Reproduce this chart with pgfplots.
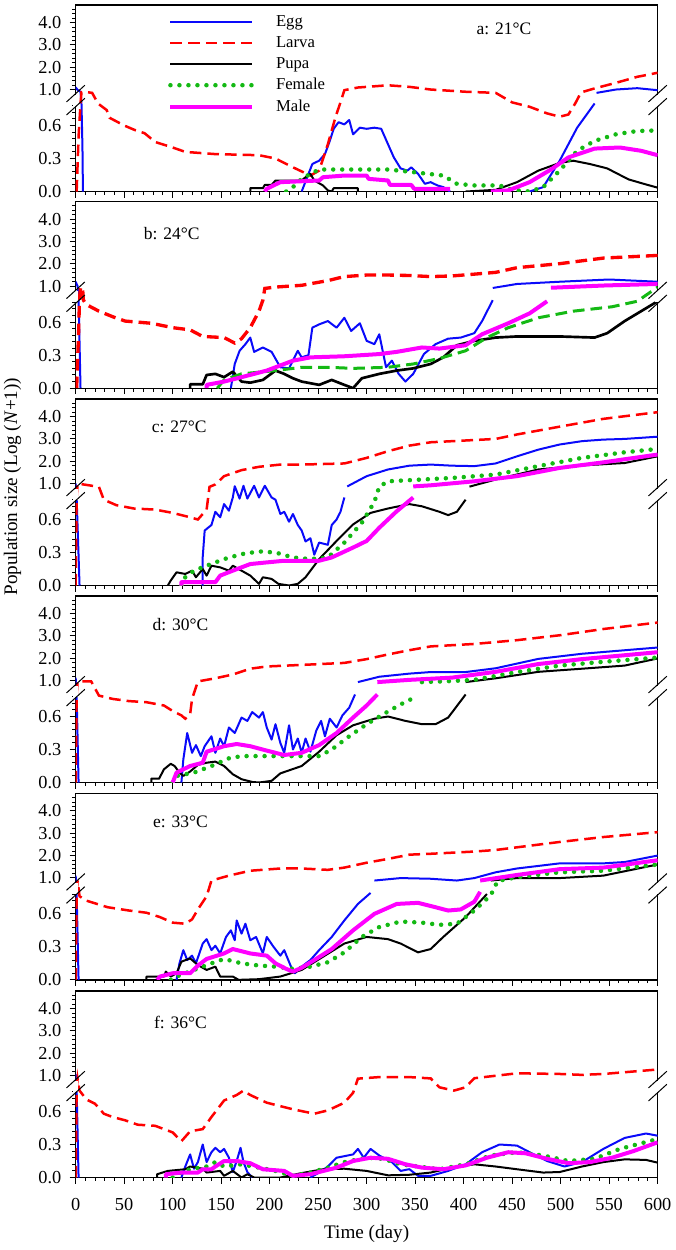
\documentclass[border=0pt]{standalone}
\usepackage{fontspec}
\setmainfont{Liberation Serif}
\usepackage{pgfplots}
\pgfplotsset{compat=1.18}

\definecolor{cEgg}{RGB}{10,10,250}
\definecolor{cLarva}{RGB}{255,0,0}
\definecolor{cFem}{RGB}{20,185,20}
\definecolor{cMale}{RGB}{255,0,255}

\tikzset{
  egg/.style={color=cEgg, line width=1.2pt, line join=round},
  larva/.style={color=cLarva, line width=1.5pt, dash pattern=on 7pt off 3.6pt},
  larvab/.style={color=cLarva, line width=2pt, dash pattern=on 7pt off 3.6pt},
  pupa/.style={color=black, line width=1.2pt, line join=round},
  fem/.style={color=cFem, line width=2.7pt, line cap=round, dash pattern=on 0pt off 5.4pt},
  femb/.style={color=cFem, line width=1.8pt, dash pattern=on 7pt off 3.6pt},
  male/.style={color=cMale, line width=2.4pt, line join=round},
}

\pgfplotsset{
  panel/.style={
    scale only axis, width=349.2pt, height=111.9pt,
    xmin=0, xmax=600, ymin=0, ymax=4.79,
    y coord trafo/.code={\pgfmathparse{(##1<=0.83)?(##1):(0.7243+0.2027*(##1))}},
    ytick={0,0.3,0.6,1,2,3,4},
    yticklabels={0.0,0.3,0.6,1.0,2.0,3.0,4.0},
    minor ytick={0.06,0.12,0.18,0.24,0.36,0.42,0.48,0.54,0.66,0.72,0.78,1.2,1.4,1.6,1.8,2.2,2.4,2.6,2.8,3.2,3.4,3.6,3.8,4.2,4.4,4.6},
    xtick={0,50,...,600},
    minor x tick num=4,
    tick align=outside, tick pos=left,
    major tick length=3.6pt, minor tick length=2pt,
    every tick/.style={black, line width=0.6pt},
    axis line style={line width=0.8pt},
    clip mode=individual,
    tick label style={font=\fontsize{11}{13}\selectfont},
    yticklabel style={xshift=-1.5pt},
    /pgf/number format/assume math mode=true,
    xticklabels={},
  },
}

\newcommand{\brk}{%
  \draw[white, line width=3pt] (rel axis cs:0,0.46) -- (rel axis cs:0,0.52);
  \draw[white, line width=3pt] (rel axis cs:1,0.46) -- (rel axis cs:1,0.52);
  \draw[black, line width=0.6pt] ([xshift=-5.5pt,yshift=-5pt]rel axis cs:0,0.455) -- ([xshift=5.5pt,yshift=5pt]rel axis cs:0,0.455);
  \draw[black, line width=0.6pt] ([xshift=-5.5pt,yshift=-5pt]rel axis cs:0,0.525) -- ([xshift=5.5pt,yshift=5pt]rel axis cs:0,0.525);
  \draw[black, line width=0.6pt] ([xshift=-5.5pt,yshift=-5pt]rel axis cs:1,0.455) -- ([xshift=5.5pt,yshift=5pt]rel axis cs:1,0.455);
  \draw[black, line width=0.6pt] ([xshift=-5.5pt,yshift=-5pt]rel axis cs:1,0.525) -- ([xshift=5.5pt,yshift=5pt]rel axis cs:1,0.525);
}

\begin{document}
\begin{tikzpicture}
\path[use as bounding box] (0pt,0pt) rectangle (405pt,-750pt);

% ---------------- panel a ----------------
\begin{axis}[panel, at={(45.4pt,-3pt)}, anchor=north west,
  legend style={at={(rel axis cs:0.159,0.962)}, anchor=north west, draw=none, fill=none,
    inner sep=0pt, outer sep=0pt, row sep=0.5pt, font=\fontsize{10}{12}\selectfont,
    /tikz/every odd column/.append style={column sep=11pt}},
  legend cell align=left,
  legend image code/.code={\draw[#1] (0pt,0pt) -- (49pt,0pt);},
  legend entries={Egg,Larva,Pupa,Female,Male}]
\addlegendimage{egg}
\addlegendimage{larva}
\addlegendimage{pupa}
\addlegendimage{fem}
\addlegendimage{male}
\addplot[egg, forget plot] coordinates {(0,1.1) (2,0.98) (5,0.9) (6,0.8) (7,0.4) (7.5,0)};
\addplot[egg, forget plot] coordinates {(233,0) (240,0.16) (244,0.25) (251,0.28) (257,0.34) (262,0.46) (266,0.57) (271,0.63) (277,0.61) (282,0.65) (286,0.52) (293,0.58) (300,0.57) (308,0.58) (315,0.57) (322,0.43) (328,0.31) (335,0.21) (342,0.19) (346,0.22) (353,0.16) (360,0.07) (366,0.085) (373,0.055) (379,0.04) (386,0)};
\addplot[egg, forget plot] coordinates {(468,0) (482,0.04) (499,0.28) (517,0.58) (535,0.8)};
\addplot[egg, forget plot] coordinates {(537,0.85) (557,1.0) (579,1.06) (600,0.97)};
\addplot[larva, forget plot] coordinates {(1,0) (3,0.5) (5,0.8) (6,0.88) (12,0.88) (17,0.85) (23,0.8) (32,0.74) (35,0.67) (50,0.6) (62,0.555) (71,0.53) (82,0.45) (100,0.40) (113,0.36) (144,0.34) (189,0.33) (206,0.30) (224,0.22) (242,0.145) (251,0.19) (260,0.43) (268,0.68) (273,0.81) (277,0.97) (291,1.09) (322,1.19) (344,1.12) (366,1.0) (402,0.9) (433,0.85) (450,0.81) (468,0.77) (486,0.71) (499,0.68) (508,0.7) (515,0.8) (521,0.87) (535,1.05) (557,1.3) (579,1.57) (600,1.75)};
\addplot[pupa, forget plot] coordinates {(180,0) (180,0.03) (193,0.03) (195,0.06) (202,0.06) (206,0.1) (233,0.1) (237,0.13) (242,0.16) (246,0.1) (255,0.055) (260,0.01) (264,0) (266,0.03) (291,0.03) (291,0)};
\addplot[pupa, forget plot] coordinates {(402,0) (433,0.015) (455,0.085) (477,0.19) (499,0.26) (513,0.28) (530,0.25) (548,0.21) (570,0.11) (588,0.064) (600,0.035)};
\addplot[fem, forget plot] coordinates {(217,0) (224,0.04) (233,0.115) (242,0.16) (251,0.2) (322,0.2) (344,0.18) (379,0.145) (393,0.07) (411,0.055) (437,0.055) (450,0.015) (468,0) (482,0.04) (499,0.19) (517,0.37) (535,0.46) (557,0.52) (579,0.55) (600,0.555)};
\addplot[male, forget plot] coordinates {(195,0) (197,0.025) (211,0.085) (251,0.1) (255,0.13) (277,0.145) (300,0.145) (302,0.115) (322,0.1) (324,0.06) (346,0.06) (349,0.025) (386,0.025)};
\addplot[male, forget plot] coordinates {(428,0) (446,0.01) (468,0.085) (490,0.2) (508,0.31) (535,0.39) (561,0.4) (583,0.37) (600,0.33)};
\brk
\node[font=\fontsize{10.5}{12}\selectfont] at (rel axis cs:0.736,0.87) {a: 21°C};
\end{axis}

% ---------------- panel b ----------------
\begin{axis}[panel, at={(45.4pt,-121pt)}, anchor=north west]
\addplot[egg] coordinates {(0,1.2) (2,1.0) (3,0.82) (5,0)};
\addplot[egg] coordinates {(160,0) (164,0.22) (169,0.34) (175,0.4) (180,0.46) (184,0.33) (193,0.37) (202,0.33) (211,0.19) (220,0.18) (229,0.34) (233,0.28) (240,0.3) (244,0.55) (251,0.58) (260,0.61) (269,0.55) (277,0.64) (284,0.52) (293,0.59) (300,0.43) (308,0.40) (313,0.49) (320,0.19) (326,0.25) (333,0.13) (340,0.06) (348,0.13) (359,0.31) (371,0.40) (384,0.45) (397,0.46) (411,0.50) (419,0.61) (430,0.80)};
\addplot[egg] coordinates {(430,0.92) (455,1.1) (499,1.2) (550,1.3) (600,1.2)};
\addplot[larvab] coordinates {(1,0) (3,0.5) (4,0.82) (5,0.93) (7,0.96) (8,0.8) (11,0.76) (24,0.70) (38,0.65) (51,0.61) (78,0.59) (100,0.55) (118,0.53) (131,0.47) (153,0.46) (164,0.41) (171,0.45) (180,0.55) (189,0.70) (193,0.8) (195,0.9) (206,0.96) (233,1.04) (260,1.25) (277,1.43) (300,1.5) (322,1.5) (344,1.48) (366,1.43) (388,1.46) (411,1.54) (433,1.62) (455,1.83) (499,2.01) (544,2.26) (600,2.38)};
\addplot[pupa, line width=1.6pt] coordinates {(118,0) (118,0.035) (131,0.035) (135,0.12) (144,0.13) (153,0.1) (162,0.15) (171,0.06) (180,0.05) (193,0.075) (206,0.16) (215,0.13) (224,0.09) (233,0.06) (251,0.03) (264,0.075) (277,0.03) (286,0) (295,0.09) (313,0.13) (331,0.16) (348,0.18) (366,0.22) (379,0.28) (393,0.39) (411,0.43) (433,0.46) (455,0.47) (477,0.47) (499,0.47) (535,0.46) (548,0.5) (566,0.61) (600,0.79)};
\addplot[femb] coordinates {(146,0) (153,0.075) (171,0.13) (206,0.16) (233,0.19) (260,0.19) (286,0.18) (322,0.19) (348,0.22) (375,0.27) (402,0.34) (424,0.46) (446,0.55) (477,0.64) (513,0.70) (553,0.74) (579,0.79) (600,0.96)};
\addplot[male] coordinates {(135,0) (135,0.03) (153,0.06) (171,0.1) (197,0.16) (224,0.25) (242,0.28) (277,0.29) (313,0.31) (331,0.33) (357,0.37) (375,0.36) (402,0.39) (419,0.49) (446,0.59) (468,0.68) (486,0.79)};
\addplot[male] coordinates {(490,0.93) (544,1.03) (600,1.1)};
\brk
\node[font=\fontsize{10.5}{12}\selectfont] at (rel axis cs:0.165,0.83) {b: 24°C};
\end{axis}

% ---------------- panel c ----------------
\begin{axis}[panel, at={(45.4pt,-239.4pt)}, anchor=north west]
\addplot[egg] coordinates {(0,1.0) (1,0.8) (4,0)};
\addplot[egg] coordinates {(131,0) (131,0.26) (133,0.5) (140,0.55) (144,0.67) (149,0.62) (153,0.74) (158,0.68) (162,0.8) (164,0.88) (169,0.79) (173,0.9) (177,0.79) (184,0.9) (189,0.8) (195,0.9) (202,0.8) (206,0.78) (211,0.65) (215,0.67) (220,0.58) (224,0.65) (229,0.55) (233,0.5) (237,0.4) (242,0.43) (246,0.28) (251,0.39) (260,0.37) (264,0.55) (269,0.6) (273,0.67) (277,0.8)};
\addplot[egg] coordinates {(280,0.87) (300,1.33) (322,1.63) (344,1.8) (366,1.85) (388,1.8) (411,1.78) (433,1.9) (455,2.22) (477,2.52) (499,2.75) (522,2.9) (544,2.97) (566,3.0) (600,3.1)};
\addplot[larva] coordinates {(0,0) (1,0.8) (2,1.0) (24,0.85) (29,0.78) (42,0.73) (60,0.70) (82,0.69) (100,0.66) (118,0.62) (126,0.6) (135,0.69) (138,0.85) (144,0.96) (153,1.33) (171,1.6) (189,1.75) (211,1.85) (233,1.85) (277,1.9) (300,2.15) (322,2.45) (344,2.7) (366,2.85) (411,2.95) (433,3.0) (455,3.2) (499,3.55) (544,3.9) (600,4.2)};
\addplot[pupa] coordinates {(95,0) (98,0.045) (104,0.12) (113,0.105) (120,0.135) (124,0.075) (131,0.15) (135,0.09) (140,0.18) (149,0.165) (158,0.135) (162,0.18) (171,0.135) (180,0.09) (189,0.015) (193,0.075) (202,0.06) (209,0.015) (220,0) (229,0.015) (237,0.075) (251,0.24) (269,0.405) (286,0.555) (304,0.66) (322,0.70) (344,0.74) (357,0.72) (375,0.67) (384,0.64) (393,0.67) (402,0.78)};
\addplot[pupa] coordinates {(406,0.86) (433,1.18) (477,1.63) (522,1.81) (566,1.92) (600,2.22)};
\addplot[fem] coordinates {(109,0) (113,0.075) (122,0.135) (135,0.18) (153,0.24) (171,0.285) (189,0.31) (206,0.3) (224,0.255) (242,0.24) (260,0.255) (277,0.39) (295,0.57) (308,0.76) (313,0.86) (322,1.1) (344,1.15) (388,1.25) (433,1.4) (477,1.78) (522,2.15) (566,2.4) (600,2.55)};
\addplot[male] coordinates {(109,0) (109,0.03) (144,0.03) (149,0.09) (162,0.135) (180,0.195) (197,0.21) (215,0.225) (251,0.225) (264,0.255) (286,0.345) (300,0.405) (313,0.525) (331,0.675) (348,0.8)};
\addplot[male] coordinates {(348,0.87) (366,0.92) (411,1.1) (455,1.33) (499,1.7) (544,1.95) (600,2.3)};
\brk
\node[font=\fontsize{10.5}{12}\selectfont] at (rel axis cs:0.178,0.85) {c: 27°C};
\end{axis}

% ---------------- panel d ----------------
\begin{axis}[panel, at={(45.4pt,-357.6pt)}, anchor=north west]
\addplot[egg] coordinates {(0,1.13) (1,0.79) (3,0)};
\addplot[egg] coordinates {(109,0) (111,0.21) (115,0.45) (120,0.27) (124,0.34) (129,0.24) (133,0.33) (140,0.42) (144,0.27) (149,0.40) (153,0.33) (158,0.50) (164,0.45) (171,0.59) (177,0.56) (182,0.64) (189,0.59) (193,0.64) (197,0.50) (202,0.39) (206,0.53) (211,0.36) (215,0.27) (220,0.52) (224,0.30) (229,0.40) (233,0.27) (237,0.40) (242,0.28) (248,0.47) (253,0.56) (257,0.42) (262,0.58) (269,0.50) (275,0.61) (282,0.68) (288,0.80)};
\addplot[egg] coordinates {(291,0.93) (313,1.17) (344,1.31) (366,1.38) (402,1.38) (433,1.55) (477,1.97) (522,2.2) (600,2.48)};
\addplot[larva] coordinates {(0,0) (1,0.79) (2,0.96) (16,0.96) (24,0.79) (38,0.76) (55,0.74) (73,0.73) (91,0.70) (100,0.65) (109,0.61) (113,0.58) (118,0.62) (120,0.76) (126,0.96) (144,1.1) (162,1.27) (180,1.53) (197,1.63) (233,1.7) (277,1.79) (300,1.96) (322,2.17) (344,2.36) (366,2.53) (411,2.64) (455,2.81) (499,3.03) (544,3.31) (600,3.6)};
\addplot[pupa] coordinates {(78,0) (78,0.035) (86,0.035) (91,0.12) (98,0.17) (102,0.15) (107,0.09) (111,0.06) (118,0.1) (126,0.16) (135,0.18) (144,0.19) (153,0.15) (162,0.075) (171,0.03) (182,0.005) (189,0) (202,0.015) (211,0.083) (233,0.15) (251,0.28) (269,0.43) (286,0.52) (308,0.58) (322,0.60) (340,0.56) (357,0.53) (371,0.53) (384,0.59) (402,0.80)};
\addplot[pupa] coordinates {(402,0.93) (433,1.1) (477,1.39) (522,1.53) (566,1.67) (600,1.99)};
\addplot[fem] coordinates {(100,0) (104,0.06) (122,0.09) (140,0.15) (158,0.22) (171,0.24) (251,0.24) (264,0.30) (282,0.42) (300,0.53) (317,0.62) (335,0.71) (351,0.78)};
\addplot[fem] coordinates {(357,0.93) (379,0.96) (411,1.03) (455,1.38) (499,1.67) (544,1.84) (600,2.03)};
\addplot[male] coordinates {(100,0) (104,0.09) (118,0.15) (131,0.18) (135,0.28) (153,0.33) (166,0.35) (180,0.33) (197,0.29) (215,0.25) (233,0.27) (251,0.34) (269,0.45) (286,0.59) (300,0.70) (311,0.80)};
\addplot[male] coordinates {(311,0.93) (344,1.03) (388,1.13) (433,1.39) (477,1.74) (522,1.96) (600,2.27)};
\brk
\node[font=\fontsize{10.5}{12}\selectfont] at (rel axis cs:0.18,0.845) {d: 30°C};
\end{axis}

% ---------------- panel e ----------------
\begin{axis}[panel, at={(45.4pt,-476pt)}, anchor=north west]
\addplot[egg] coordinates {(0,1.1) (1,0.78) (3,0)};
\addplot[egg] coordinates {(104,0) (107,0.15) (111,0.27) (115,0.18) (120,0.22) (124,0.15) (131,0.33) (135,0.37) (140,0.27) (144,0.31) (149,0.24) (155,0.39) (160,0.45) (164,0.36) (166,0.54) (171,0.42) (175,0.51) (180,0.36) (186,0.39) (193,0.24) (197,0.39) (204,0.30) (211,0.22) (215,0.27) (222,0.12) (226,0.06) (233,0.12) (242,0.18) (251,0.27) (264,0.39) (277,0.54) (291,0.69) (304,0.79)};
\addplot[egg] coordinates {(308,0.88) (335,0.99) (366,0.96) (393,0.88) (411,0.99) (433,1.25) (455,1.42) (499,1.65) (544,1.65) (566,1.71) (600,2.0)};
\addplot[larva] coordinates {(0,0) (1,0.78) (2,0.88) (4,0.76) (11,0.72) (33,0.66) (55,0.63) (73,0.61) (87,0.57) (100,0.52) (113,0.51) (120,0.55) (126,0.64) (135,0.76) (140,0.88) (158,1.1) (180,1.32) (211,1.42) (233,1.42) (260,1.36) (277,1.46) (300,1.68) (322,1.85) (344,2.04) (366,2.08) (411,2.18) (433,2.25) (455,2.37) (499,2.61) (544,2.83) (600,3.05)};
\addplot[pupa] coordinates {(73,0) (73,0.03) (91,0.03) (93,0.075) (98,0.03) (104,0.06) (109,0.165) (118,0.195) (126,0.135) (135,0.09) (144,0.12) (149,0.03) (162,0.03) (168,0) (189,0.006) (211,0.03) (233,0.09) (255,0.21) (277,0.33) (300,0.39) (322,0.37) (335,0.33) (353,0.25) (366,0.28) (379,0.39) (402,0.57) (424,0.78)};
\addplot[pupa] coordinates {(428,0.88) (455,0.99) (499,0.99) (544,1.1) (600,1.6)};
\addplot[fem] coordinates {(98,0) (104,0.03) (122,0.09) (140,0.15) (153,0.19) (171,0.15) (189,0.13) (206,0.12) (224,0.10) (242,0.12) (260,0.16) (277,0.25) (295,0.39) (313,0.48) (335,0.53) (357,0.52) (375,0.50) (393,0.51) (411,0.63) (428,0.77) (435,0.86) (455,1.03) (499,1.25) (544,1.32) (600,1.6)};
\addplot[male] coordinates {(84,0) (87,0.03) (100,0.06) (118,0.06) (126,0.13) (135,0.19) (153,0.24) (162,0.28) (180,0.24) (197,0.22) (206,0.15) (217,0.10) (224,0.075) (233,0.11) (246,0.18) (264,0.28) (286,0.45) (308,0.60) (331,0.69) (353,0.70) (371,0.66) (384,0.63) (397,0.64) (411,0.71) (417,0.80)};
\addplot[male] coordinates {(417,0.88) (455,1.13) (499,1.39) (544,1.46) (600,1.79)};
\brk
\node[font=\fontsize{10.5}{12}\selectfont] at (rel axis cs:0.18,0.845) {e: 33°C};
\end{axis}

% ---------------- panel f ----------------
\begin{axis}[panel, at={(45.4pt,-594.6pt)}, anchor=north west,
  xticklabels={0,50,100,150,200,250,300,350,400,450,500,550,600},
  xticklabel style={yshift=-5.5pt}]
\addplot[egg] coordinates {(0,1.07) (1,0.8) (3,0)};
\addplot[egg] coordinates {(109,0) (113,0.1) (118,0.21) (122,0.08) (126,0.14) (131,0.3) (135,0.14) (140,0.23) (144,0.27) (149,0.23) (153,0.26) (158,0.18) (162,0.05) (166,0.15) (170,0.27) (173,0.14) (177,0.05) (182,0)};
\addplot[egg] coordinates {(242,0) (251,0.045) (260,0.1) (269,0.18) (286,0.21) (291,0.26) (297,0.18) (304,0.26) (313,0.2) (326,0.14) (335,0.06) (344,0.076) (353,0.015) (366,0.015) (384,0.06) (402,0.12) (419,0.23) (437,0.3) (455,0.29) (468,0.23) (486,0.15) (504,0.1) (522,0.14) (544,0.26) (566,0.36) (588,0.4) (600,0.38)};
\addplot[larva] coordinates {(0,0) (1,0.8) (2,0.86) (4,0.79) (11,0.71) (20,0.67) (29,0.58) (38,0.55) (51,0.52) (64,0.48) (82,0.47) (91,0.44) (100,0.41) (109,0.33) (118,0.42) (131,0.44) (140,0.55) (153,0.70) (166,0.75) (173,0.79) (180,0.75) (197,0.68) (224,0.62) (246,0.58) (260,0.61) (277,0.68) (286,0.77) (291,0.86) (313,0.93) (344,0.93) (366,0.87) (375,0.82) (390,0.79) (402,0.82) (411,0.88) (455,1.1) (499,1.07) (522,1.03) (544,1.07) (600,1.27)};
\addplot[pupa] coordinates {(84,0) (84,0.03) (95,0.06) (113,0.075) (118,0.1) (131,0.08) (135,0.045) (149,0.06) (153,0.015) (162,0.06) (171,0) (177,0.03) (184,0) (211,0) (233,0.04) (255,0.075) (277,0.08) (300,0.06) (322,0.02) (344,0.025) (366,0.045) (388,0.09) (411,0.12) (433,0.1) (455,0.075) (482,0.045) (499,0.05) (522,0.1) (544,0.14) (566,0.165) (588,0.16) (600,0.135)};
\addplot[fem] coordinates {(100,0) (104,0.03) (118,0.075) (135,0.1) (144,0.14) (153,0.1) (171,0.12) (189,0.09) (206,0.06) (224,0.015) (242,0.045) (260,0.09) (277,0.14) (300,0.18) (317,0.17) (335,0.12) (353,0.1) (375,0.075) (402,0.12) (428,0.2) (455,0.23) (482,0.2) (508,0.15) (535,0.17) (561,0.26) (600,0.35)};
\addplot[male] coordinates {(93,0) (93,0.03) (109,0.045) (126,0.045) (131,0.075) (140,0.075) (144,0.1) (153,0.15) (166,0.15) (180,0.13) (193,0.075) (215,0.06) (224,0.015) (242,0.03) (269,0.09) (286,0.15) (304,0.18) (322,0.17) (340,0.12) (357,0.09) (379,0.075) (402,0.11) (424,0.18) (446,0.23) (464,0.22) (486,0.17) (508,0.13) (530,0.14) (553,0.18) (575,0.24) (600,0.32)};
\brk
\node[font=\fontsize{10.5}{12}\selectfont] at (rel axis cs:0.18,0.83) {f: 36°C};
\end{axis}

\node[rotate=90, font=\fontsize{11.5}{13}\selectfont] at (7.5pt,-292pt) {Population size (Log (\textit{N}+1))};
\node[font=\fontsize{11.5}{13}\selectfont] at (220pt,-740.5pt) {Time (day)};
\end{tikzpicture}
\end{document}
